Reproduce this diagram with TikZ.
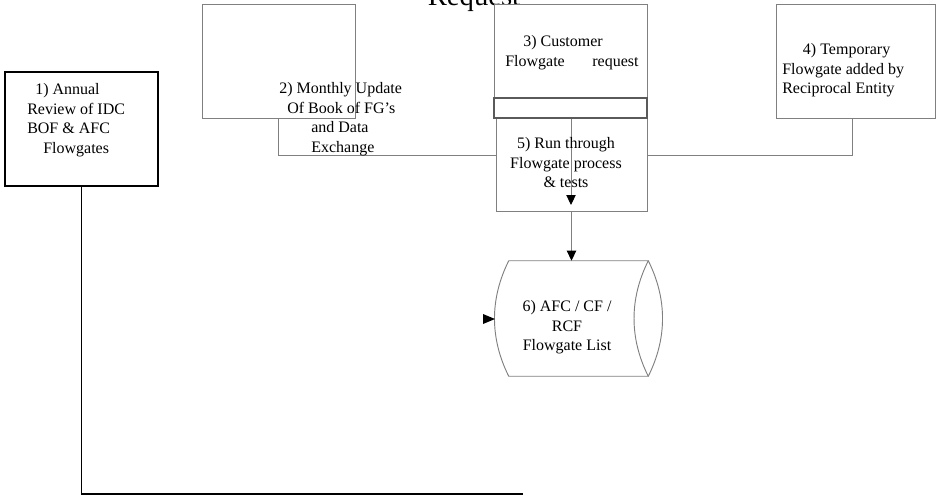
\documentclass[tikz,border=0pt]{standalone}
\usepackage{fontspec}
\setmainfont{Liberation Serif}
\usetikzlibrary{arrows.meta,fit}
\definecolor{linegray}{HTML}{808080}
\definecolor{stripgray}{HTML}{5A5A5A}
\begin{document}
\begin{tikzpicture}[x=0.75pt,y=-0.75pt,
  graybox/.style={draw=linegray,line width=0.7pt,fill=white,inner sep=0pt},
  blackbox/.style={draw=black,line width=1.4pt,fill=white,inner sep=0pt},
  txt/.style={inner sep=0pt,font=\fontsize{12pt}{14.8pt}\selectfont},
  conn/.style={draw=linegray,line width=0.7pt},
  arr/.style={conn,-{Triangle[length=7.5pt,width=7pt,fill=black,color=black]}},
  ]
\useasboundingbox (0,0) rectangle (937,497);

% title
\node[inner sep=0pt,anchor=base,font=\fontsize{21.5pt}{24pt}\selectfont] (title) at (474,5) {Request};

% boxes
\node[blackbox,fit={(5,72) (158,186)}] (b1) {};
\node[graybox,fit={(202,4) (355,118)}] (b2) {};
\node[graybox,fit={(494,4) (647,118)}] (b3) {};
\node[graybox,fit={(776,4) (935,118)}] (b4) {};

% connector from box 2 to box 4
\draw[conn] (b2.south) -- ++(0,37) -| ([xshift=-2.6pt]b4.south);

% box 5 and strip
\node[graybox,fit={(496,118) (647,211)}] (b5) {};
\node[draw=stripgray,line width=0.8pt,inner sep=0pt,fit={(494,98) (647,118)}] (strip) {};

% cylinder (stored data list)
\node[inner sep=0pt,fit={(509,261) (648,376)}] (cyl) {};
\draw[conn] (cyl.north west) -- (cyl.north east)
  .. controls +(-19,38) and +(-19,-38) .. (cyl.south east)
  -- (cyl.south west)
  .. controls +(-19,-38) and +(-19,38) .. (cyl.north west);
\draw[conn] (cyl.north east) .. controls +(19,38) and +(19,-38) .. (cyl.south east);

% arrows
\coordinate (t5) at (571,205);
\draw[arr] (t5 |- strip.south) -- (t5);
\draw[arr] (b5.south) -- (b5.south |- cyl.north);
\fill[black] (483,314) -- (495,319) -- (483,324) -- cycle;

% L line from box 1
\coordinate (lend) at (523,494);
\draw[black,line width=1.4pt] (b1.south) |- (lend);

% texts
\node[txt,anchor=north west,align=left] (t1) at (27,83)
  {\hspace*{6pt}1) Annual\\Review of IDC\\BOF \& AFC\\\hspace*{12pt}Flowgates};
\node[txt,anchor=north west,align=left] (t2) at (279,82)
  {2) Monthly Update\\\hspace*{6pt}Of Book of FG’s\\\hspace*{24pt}and Data\\\hspace*{24pt}Exchange};
\node[txt,anchor=north west,align=left] (t3) at (505,35)
  {\hspace*{13.5pt}3) Customer\\\makebox[100pt]{Flowgate\hfill request}};
\node[txt,anchor=north west,align=left] (t4) at (782,43)
  {\hspace*{15.5pt}4) Temporary\\Flowgate added by\\Reciprocal Entity};
\node[txt,anchor=north,align=center] (t5txt) at (566,137)
  {5) Run through\\Flowgate process\\\& tests};
\node[txt,anchor=north,align=center] (t6) at (567,300)
  {6) AFC / CF /\\RCF\\Flowgate List};
\end{tikzpicture}
\end{document}
